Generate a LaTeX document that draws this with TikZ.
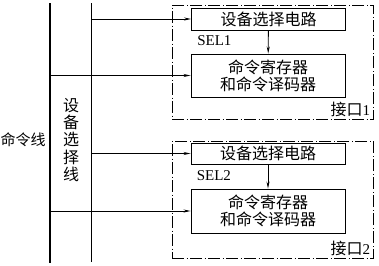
\documentclass[tikz,border=0pt]{standalone}
\usepackage{fontspec}
\setmainfont{Liberation Serif}
\newfontfamily\cjk{Noto Sans CJK SC}
\usetikzlibrary{positioning,arrows.meta}

\begin{document}
\begin{tikzpicture}[x=1pt, y=-1pt, font=\fontsize{15}{17}\selectfont]
    \tikzstyle{port} = [rectangle, draw, line width=0.8pt, dash pattern=on 12pt off 2.5pt on 1pt off 2.5pt, minimum width=201pt]
    \tikzstyle{circuit} = [rectangle, draw, line width=0.9pt, minimum width=154pt, inner sep=0pt, align=center, font=\fontsize{16}{17}\selectfont\cjk]
    \tikzstyle{bus} = [line width=1.1pt]
    \tikzstyle{signal} = [line width=0.8pt, -{Stealth[length=7pt, width=3pt]}]
    \useasboundingbox (0,0) rectangle (379,265);

    % Interface 1
    \node[port, minimum height=114pt] (if1) at (272.5,62) {};
    \node[circuit, minimum height=22pt] (sel1) at (268.5,19) {设备选择电路};
    \node[circuit, minimum height=43pt] (reg1) at (268,75.5) {命令寄存器\\和命令译码器};
    \node[inner sep=0pt, below right=5pt and 6pt of sel1.south west] (sel1lbl) {SEL1};
    \node[inner sep=2pt, anchor=south east] (if1lbl) at ([xshift=-1pt]if1.south east) {{\fontsize{16}{17}\selectfont\cjk 接口}1};

    % Interface 2
    \node[port, minimum height=117pt] (if2) at (272.5,199.5) {};
    \node[circuit, minimum height=21pt] (sel2) at (268,153.5) {设备选择电路};
    \node[circuit, minimum height=44pt] (reg2) at (268,211) {命令寄存器\\和命令译码器};
    \node[inner sep=0pt, below right=6pt and 6pt of sel2.south west] (sel2lbl) {SEL2};
    \node[inner sep=2pt, anchor=south east] (if2lbl) at ([xshift=-1pt]if2.south east) {{\fontsize{16}{17}\selectfont\cjk 接口}2};

    % Buses
    \coordinate (cmdtop) at (50,3);
    \coordinate (cmdbot) at (50,263);
    \coordinate (devtop) at (91.5,3);
    \coordinate (devbot) at (91.5,262);
    \draw[bus] (cmdtop) -- (cmdbot);
    \draw[bus] (devtop) -- (devbot);
    \node[inner sep=0pt, anchor=west, font=\fontsize{15}{17}\selectfont\cjk] (cmdlbl) at (0.5,140) {命令线};
    \node[inner sep=0pt, align=center, font=\fontsize{16}{17.3}\selectfont\cjk] (devlbl) at (71,140) {设\\备\\选\\择\\线};

    % Select and command signals
    \draw[signal] (devtop |- sel1.west) -- (sel1.west);
    \draw[signal] (cmdtop |- reg1.west) -- (reg1.west);
    \draw[signal] (devtop |- sel2.west) -- (sel2.west);
    \draw[signal] (cmdtop |- reg2.west) -- (reg2.west);
    \draw[signal] (sel1) -- (reg1);
    \draw[signal] (sel2) -- (reg2);
\end{tikzpicture}
\end{document}
